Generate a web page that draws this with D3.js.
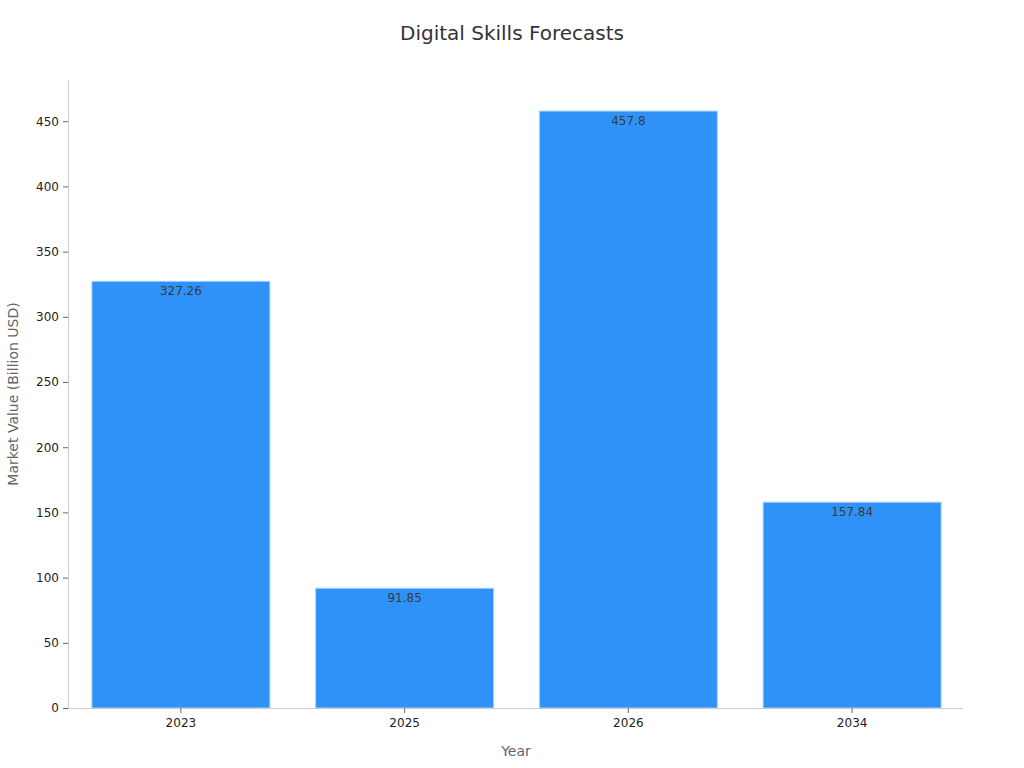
<!DOCTYPE html>
<html><head><meta charset="utf-8">
<script src="https://cdn.jsdelivr.net/npm/d3@7"></script>
<style>body{margin:0;background:#fff}svg{font-family:"DejaVu Sans",sans-serif}</style>
</head><body>
<svg id="c" width="1024" height="768"></svg>
<script>
const categories = ["2023", "2025", "2026", "2034"];
const values = [327.26, 91.85, 457.8, 157.84];
const yTicks = [0, 50, 100, 150, 200, 250, 300, 350, 400, 450];
const title = "Digital Skills Forecasts";
const xLabel = "Year";
const yLabel = "Market Value (Billion USD)";

const svg = d3.select("#c");
const m = {l: 68, r: 963, t: 80, b: 708};
const x = d3.scaleBand().domain(categories).range([m.l + 1, m.r + 1]).paddingInner(0.2).paddingOuter(0.1);
const y = d3.scaleLinear().domain([0, d3.max(values) * 1.052]).range([m.b, m.t]);

svg.append("text").attr("x", 512).attr("y", 40).attr("text-anchor", "middle")
  .attr("font-size", 20).attr("fill", "#333").text(title);

svg.selectAll("rect.bar").data(values).join("rect").attr("class", "bar")
  .attr("x", (d, i) => x(categories[i]) + 0.5)
  .attr("width", x.bandwidth() - 1)
  .attr("y", d => y(d))
  .attr("height", d => y(0) - y(d))
  .attr("fill", "#2f92f9").attr("stroke", "#a9d3ff").attr("stroke-width", 1);

svg.selectAll("text.val").data(values).join("text").attr("class", "val")
  .attr("x", (d, i) => x(categories[i]) + x.bandwidth() / 2)
  .attr("y", d => y(d) + 14)
  .attr("text-anchor", "middle").attr("font-size", 12).attr("fill", "#3a3a3a")
  .text(d => d);

const yAxis = svg.append("g").attr("transform", `translate(${m.l},0)`)
  .call(d3.axisLeft(y).tickValues(yTicks).tickSize(5).tickPadding(4));
yAxis.select(".domain").attr("stroke", "#ccc").attr("d", `M0.5,${m.t}V${m.b}`);
yAxis.selectAll(".tick line").attr("stroke", "#666");
yAxis.selectAll(".tick text").attr("font-size", 12).attr("fill", "#222").attr("font-family", "DejaVu Sans");

const xAxis = svg.append("g").attr("transform", `translate(0,${m.b})`)
  .call(d3.axisBottom(x).tickSize(5).tickPadding(5));
xAxis.select(".domain").attr("stroke", "#ccc").attr("d", `M${m.l},0.5H${m.r}`);
xAxis.selectAll(".tick line").attr("stroke", "#666");
xAxis.selectAll(".tick text").attr("font-size", 12).attr("fill", "#222").attr("font-family", "DejaVu Sans");

svg.append("text").attr("x", 516).attr("y", 756).attr("text-anchor", "middle")
  .attr("font-size", 14).attr("fill", "#666").text(xLabel);
svg.append("text").attr("transform", "translate(18,394) rotate(-90)").attr("text-anchor", "middle")
  .attr("font-size", 14).attr("fill", "#666").text(yLabel);
</script>
</body></html>
